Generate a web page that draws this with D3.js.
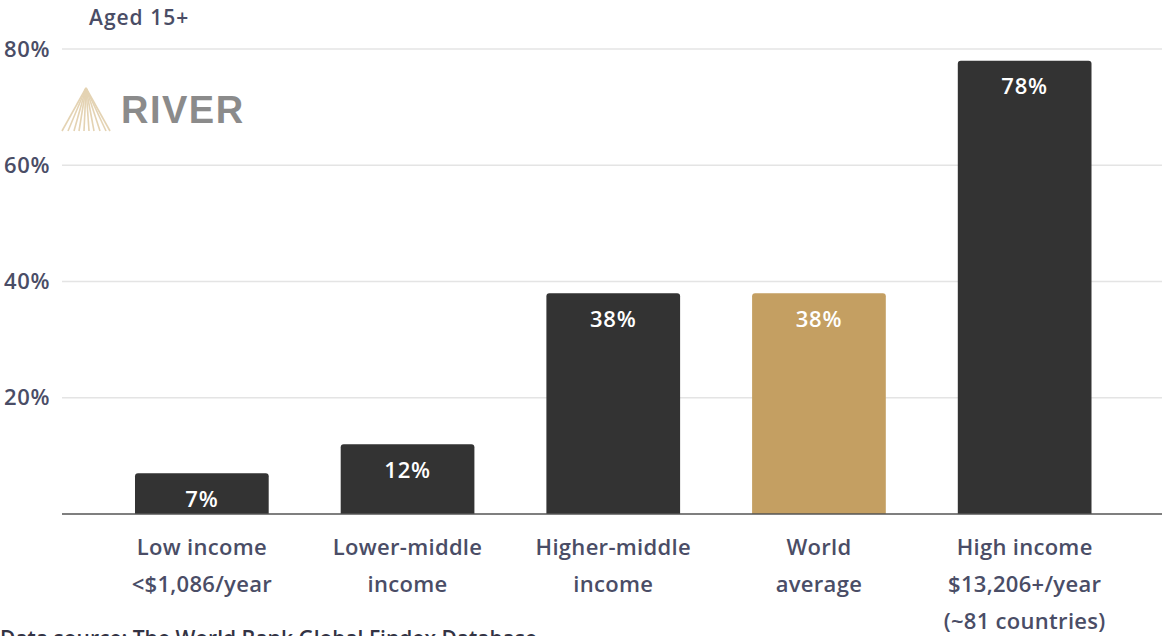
<!DOCTYPE html>
<html><head><meta charset="utf-8">
<script src="https://cdn.jsdelivr.net/npm/d3@7"></script>
<style>
html,body{margin:0;padding:0;background:#fff;overflow:hidden;}
svg{display:block;font-family:"Open Sans",Lato,sans-serif;}
</style></head>
<body>
<svg id="c" width="1162" height="636"></svg>
<script>
const categories = ["Low income", "Lower-middle income", "Higher-middle income", "World average", "High income"];
const labelLines = [["Low income", "<$1,086/year"], ["Lower-middle", "income"], ["Higher-middle", "income"], ["World", "average"], ["High income", "$13,206+/year", "(~81 countries)"]];
const values = [7, 12, 38, 38, 78];
const highlight = ["World average"];
const yTicks = [20, 40, 60, 80];
const yTickLabels = ["20%", "40%", "60%", "80%"];

const svg = d3.select("#c");
const textCol = "#4a4d66";
const x = d3.scaleBand().domain(categories).range([99, 1127.5]).paddingInner(0.35).paddingOuter(0.175);
const y = d3.scaleLinear().domain([0, 80]).range([514, 49]);

// gridlines
svg.append("g").selectAll("line").data(yTicks).join("line")
  .attr("x1", 62).attr("x2", 1162).attr("y1", d => y(d)).attr("y2", d => y(d))
  .attr("stroke", "#e4e4e4").attr("stroke-width", 1.5);

// y labels
svg.append("g").selectAll("text").data(yTicks).join("text")
  .attr("x", 50).attr("y", d => y(d)).attr("dy", "0.35em").attr("text-anchor", "end")
  .attr("font-size", 22).attr("font-weight", 600).attr("fill", textCol).attr("letter-spacing", 0.6)
  .text((d, i) => yTickLabels[i]);

svg.append("text").attr("x", 89).attr("y", 25).attr("font-size", 21).attr("font-weight", 600)
  .attr("fill", textCol).attr("letter-spacing", 1).text("Aged 15+");

// logo
const logo = svg.append("g");
const apex = [86, 88];
const bases = [62, 68, 74, 79, 84, 89, 94, 100, 106, 110];
logo.selectAll("line").data(bases).join("line")
  .attr("x1", apex[0]).attr("y1", apex[1]).attr("x2", d => d).attr("y2", 131)
  .attr("stroke", "#e4d3b3").attr("stroke-width", 1.6);
logo.append("text").attr("x", 121).attr("y", 123).attr("font-family", "'Liberation Sans', Arial, sans-serif")
  .attr("font-size", 38).attr("font-weight", 700).attr("fill", "#8b8b8b").attr("letter-spacing", 1.5).text("RIVER");

// bars
const r = 3;
function barPath(d) {
  const x0 = x(d.c), w = x.bandwidth(), y0 = y(d.v), y1 = y(0);
  return `M${x0},${y1}V${y0 + r}Q${x0},${y0} ${x0 + r},${y0}H${x0 + w - r}Q${x0 + w},${y0} ${x0 + w},${y0 + r}V${y1}Z`;
}
const data = categories.map((c, i) => ({c, v: values[i]}));
svg.append("g").selectAll("path").data(data).join("path")
  .attr("d", barPath)
  .attr("fill", d => highlight.includes(d.c) ? "#c49f62" : "#333333");

svg.append("g").selectAll("text").data(data).join("text")
  .attr("x", d => x(d.c) + x.bandwidth() / 2).attr("y", d => y(d.v) + 26).attr("dy", "0.35em")
  .attr("text-anchor", "middle").attr("font-size", 22).attr("font-weight", 600).attr("fill", "#fff")
  .attr("letter-spacing", 0.8)
  .text(d => d.v + "%");

// baseline
svg.append("line").attr("x1", 62).attr("x2", 1162).attr("y1", y(0)).attr("y2", y(0))
  .attr("stroke", "#555").attr("stroke-width", 1.5);

// x labels
const xl = svg.append("g").selectAll("text").data(categories).join("text")
  .attr("text-anchor", "middle").attr("font-size", 22).attr("font-weight", 600).attr("fill", textCol)
  .attr("letter-spacing", 0.3);
xl.each(function(c, i) {
  const t = d3.select(this);
  labelLines[i].forEach((ln, j) => {
    t.append("tspan").attr("x", x(c) + x.bandwidth() / 2).attr("y", 555 + j * 37).text(ln);
  });
});

svg.append("text").attr("x", 0).attr("y", 646).attr("font-size", 21).attr("font-weight", 600)
  .attr("fill", "#333344").text("Data source: The World Bank Global Findex Database");
</script>
</body></html>
